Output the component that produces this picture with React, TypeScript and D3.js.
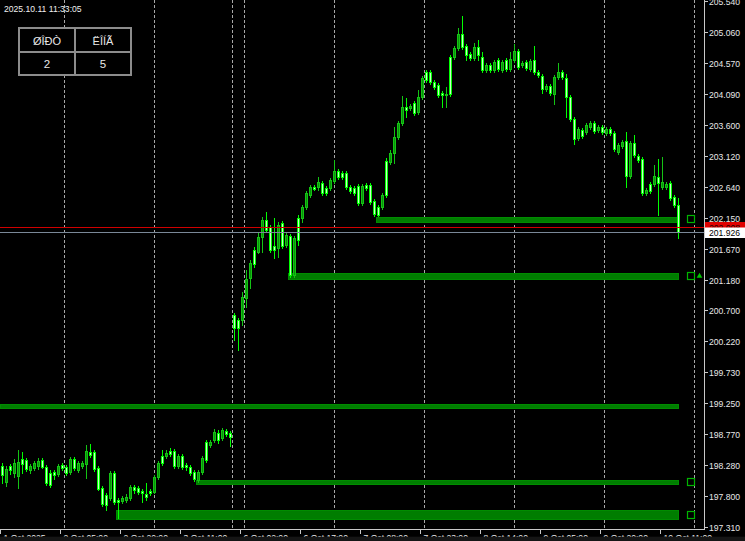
import * as d3 from "d3";

// H1 bars, oldest first (price values)
const open = [
  198.27, 198.01, 198.27, 198.16, 198.11, 198.37, 198.36, 198.2, 198.23, 198.27,
  198.36, 198.25, 198.16, 198.17, 198.14, 198.28, 198.25, 198.17, 198.37, 198.2,
  198.27, 198.3, 198.48, 198.48, 198.23, 197.92, 197.81, 197.76, 198.16, 197.73,
  197.72, 197.73, 197.76, 197.94, 197.92, 197.87, 197.83, 197.87, 197.86, 198.09,
  198.42, 198.42, 198.5, 198.5, 198.27, 198.42, 198.28, 198.25, 198.17, 198.05,
  198.17, 198.64, 198.59, 198.67, 198.78, 198.7, 198.81, 198.78,
  200.63, 200.55, 200.55, 200.9, 201.21, 201.65, 201.62, 201.85, 202.12, 202.01,
  201.71, 201.68, 202.07, 201.72, 201.87, 201.26, 202.15, 202.15, 202.32, 202.51,
  202.63, 202.63, 202.7, 202.62, 202.62, 202.73, 202.88, 202.85, 202.85, 202.63,
  202.62, 202.65, 202.38, 202.66, 202.66, 202.41, 202.32, 202.32, 203.04, 203.02,
  203.17, 203.42, 203.63, 203.89, 203.87, 203.95, 203.81, 204.04, 204.43, 204.43,
  204.28, 204.23, 204.1, 204.07, 204.67, 204.67, 204.81, 205.03, 204.84, 204.72,
  204.65, 204.82, 204.67, 204.47, 204.54, 204.47, 204.62, 204.47, 204.62, 204.48,
  204.62, 204.76, 204.54, 204.59, 204.48, 204.62, 204.43, 204.37, 204.17, 204.21,
  204.09, 204.36, 204.43, 204.34, 204.04, 203.7, 203.4, 203.53, 203.49, 203.57,
  203.63, 203.53, 203.57, 203.48, 203.54, 203.48, 203.18, 203.27, 203.35, 202.81,
  203.32, 203.12, 203.07, 202.54, 202.68, 202.68, 202.79, 202.63, 202.63, 202.7,
  202.48, 202.35,
];
const high = [
  198.31, 198.27, 198.3, 198.37, 198.52, 198.48, 198.39, 198.3, 198.34, 198.39,
  198.39, 198.28, 198.2, 198.2, 198.3, 198.31, 198.28, 198.41, 198.41, 198.34,
  198.34, 198.59, 198.61, 198.52, 198.27, 197.95, 197.84, 198.19, 198.19, 197.76,
  197.8, 197.83, 197.97, 197.97, 197.95, 197.9, 198.0, 197.9, 198.12, 198.34,
  198.52, 198.52, 198.55, 198.53, 198.45, 198.45, 198.31, 198.28, 198.2, 198.2,
  198.42, 198.67, 198.67, 198.84, 198.83, 198.86, 198.84, 198.81,
  200.66, 200.58, 200.99, 201.33, 201.49, 201.69, 201.91, 202.16, 202.24, 202.04,
  202.15, 202.09, 202.1, 201.91, 201.9, 201.87, 202.19, 202.35, 202.57, 202.66,
  202.66, 202.79, 202.73, 202.65, 202.77, 203.06, 202.92, 202.88, 202.88, 202.66,
  202.65, 202.68, 202.68, 202.7, 202.7, 202.45, 202.35, 202.54, 203.09, 203.21,
  203.57, 203.67, 204.06, 204.03, 203.93, 203.98, 204.15, 204.37, 204.47, 204.47,
  204.31, 204.26, 204.14, 204.2, 204.7, 204.84, 205.12, 205.31, 204.87, 204.75,
  204.89, 204.94, 204.75, 204.57, 204.57, 204.62, 204.65, 204.62, 204.65, 204.75,
  204.87, 204.79, 204.61, 204.62, 204.64, 204.84, 204.47, 204.4, 204.25, 204.25,
  204.39, 204.57, 204.47, 204.4, 204.07, 203.73, 203.57, 203.56, 203.63, 203.67,
  203.67, 203.6, 203.6, 203.57, 203.57, 203.51, 203.32, 203.37, 203.49, 203.35,
  203.45, 203.15, 203.1, 202.62, 202.71, 202.98, 203.07, 203.1, 202.71, 202.73,
  202.51, 202.46,
];
const low = [
  198.0, 197.95, 198.14, 198.09, 197.92, 198.16, 198.19, 198.16, 198.2, 198.22,
  198.23, 197.97, 197.94, 198.06, 198.11, 198.2, 198.12, 198.14, 198.2, 198.17,
  198.23, 198.08, 198.41, 198.19, 197.89, 197.64, 197.58, 197.73, 197.67, 197.45,
  197.69, 197.7, 197.73, 197.84, 197.83, 197.7, 197.73, 197.81, 197.84, 198.06,
  198.28, 198.39, 198.42, 198.23, 198.23, 198.22, 198.2, 198.12, 198.03, 198.01,
  198.14, 198.33, 198.56, 198.64, 198.62, 198.67, 198.74, 198.58,
  200.24, 200.08, 200.47, 200.75, 201.05, 201.38, 201.6, 201.62, 201.93, 201.62,
  201.52, 201.54, 201.68, 201.69, 201.22, 201.22, 201.72, 202.09, 202.29, 202.48,
  202.59, 202.59, 202.51, 202.51, 202.59, 202.7, 202.76, 202.76, 202.6, 202.54,
  202.51, 202.35, 202.35, 202.59, 202.37, 202.18, 202.18, 202.29, 202.48, 202.99,
  203.01, 203.38, 203.6, 203.73, 203.84, 203.76, 203.78, 204.01, 204.28, 204.25,
  204.17, 204.04, 203.89, 203.89, 204.06, 204.64, 204.78, 204.79, 204.62, 204.62,
  204.62, 204.62, 204.43, 204.43, 204.43, 204.43, 204.45, 204.43, 204.45, 204.45,
  204.59, 204.48, 204.51, 204.47, 204.45, 204.4, 204.36, 204.1, 204.14, 204.07,
  203.93, 204.32, 204.32, 203.73, 203.67, 203.31, 203.37, 203.4, 203.46, 203.54,
  203.48, 203.49, 203.46, 203.45, 203.45, 203.2, 203.15, 203.24, 202.63, 202.77,
  203.1, 203.02, 202.51, 202.51, 202.54, 202.65, 202.19, 202.6, 202.6, 202.43,
  202.32, 201.83,
];
const close = [
  198.12, 198.22, 198.2, 198.31, 198.33, 198.3, 198.22, 198.27, 198.31, 198.34,
  198.25, 198.0, 197.97, 198.12, 198.27, 198.23, 198.16, 198.37, 198.23, 198.31,
  198.31, 198.5, 198.44, 198.22, 197.9, 197.67, 197.65, 198.16, 197.7, 197.7,
  197.76, 197.78, 197.94, 197.89, 197.86, 197.84, 197.78, 197.84, 198.09, 198.31,
  198.31, 198.47, 198.45, 198.27, 198.42, 198.25, 198.25, 198.16, 198.06, 198.17,
  198.39, 198.36, 198.64, 198.8, 198.67, 198.83, 198.77, 198.72,
  200.43, 200.43, 200.91, 201.19, 201.44, 201.43, 201.85, 202.12, 201.96, 201.65,
  201.65, 202.04, 201.71, 201.88, 201.26, 201.84, 201.8, 202.32, 202.54, 202.63,
  202.6, 202.71, 202.54, 202.54, 202.74, 202.88, 202.79, 202.79, 202.63, 202.57,
  202.54, 202.38, 202.65, 202.62, 202.4, 202.21, 202.19, 202.51, 202.51, 203.17,
  203.42, 203.63, 203.89, 203.84, 203.9, 203.79, 204.04, 204.34, 204.31, 204.28,
  204.2, 204.07, 204.07, 204.09, 204.09, 204.81, 205.03, 204.82, 204.7, 204.65,
  204.82, 204.7, 204.47, 204.54, 204.47, 204.59, 204.48, 204.59, 204.48, 204.64,
  204.76, 204.51, 204.57, 204.5, 204.61, 204.43, 204.39, 204.17, 204.21, 204.1,
  204.36, 204.43, 204.36, 204.04, 203.7, 203.38, 203.54, 203.43, 203.6, 203.63,
  203.51, 203.57, 203.49, 203.54, 203.48, 203.23, 203.29, 203.34, 202.81, 203.32,
  203.13, 203.06, 202.54, 202.59, 202.57, 202.81, 202.7, 202.71, 202.68, 202.46,
  202.35, 201.926,
];

const priceTicks = [
  "205.540", "205.060", "204.570", "204.090", "203.600", "203.120", "202.640",
  "202.150", "201.670", "201.180", "200.700", "200.220", "199.730", "199.250",
  "198.770", "198.280", "197.800", "197.310",
];
const timeLabelBars = [0, 15, 30, 45, 60, 75, 90, 105, 120, 135, 150, 165];
const timeLabels = [
  "1 Oct 2025", "2 Oct 05:00", "2 Oct 20:00", "3 Oct 11:00", "6 Oct 02:00",
  "6 Oct 17:00", "7 Oct 08:00", "7 Oct 23:00", "8 Oct 14:00", "9 Oct 05:00",
  "9 Oct 20:00", "10 Oct 11:00",
];
const separatorBars = [15.5, 38, 57.5, 60.5, 83, 105.5, 128, 150.5, 173];

// supply / demand zones
const zoneTop = [202.17, 201.29, 199.23, 198.05, 197.57];
const zoneBottom = [202.08, 201.19, 199.17, 197.98, 197.43];
const zoneStart = [94, 72, 0, 49, 29];
const zoneMarked = [true, true, false, true, true];

const bid = 201.926;
const ask = 202.008;
const serverTime = "2025.10.11 11:33:05";
const tableHeaders = ["ØÎÐÒ", "ËÎÍÃ"];
const tableValues = ["2", "5"];

const W = 745;
const H = 541;
const axisX = 704.5;
const axisY = 529.5;
const font = "'Liberation Sans', Arial, sans-serif";

export default function App() {
  const x = d3.scaleLinear().domain([0, 169]).range([2.5, 678.5]);
  const y = d3.scaleLinear().domain([197.31, 205.06]).range([527, 32]);
  const py = (v: number) => Math.round(y(v));
  const lastX = x(open.length - 1);

  const candles = open.map((o, i) => {
    const c = close[i];
    const up = c > o;
    const top = py(Math.max(o, c));
    const bot = py(Math.min(o, c));
    return { i, up, top, bot, hi: py(high[i]), lo: py(low[i]) };
  });

  return (
    <svg
      width={W}
      height={H}
      style={{ position: "fixed", left: 0, top: 0, display: "block", background: "#000" }}
    >
      <rect x={0} y={0} width={W} height={H} fill="#000" />

      {/* separators */}
      {separatorBars.map((b, k) => (
        <line
          key={"s" + k}
          x1={Math.round(x(b) - 0.5) + 0.5}
          x2={Math.round(x(b) - 0.5) + 0.5}
          y1={0}
          y2={axisY}
          stroke="#a8a8a8"
          strokeWidth={1}
          strokeDasharray="3,2"
        />
      ))}

      {/* zones */}
      {zoneTop.map((t, k) => (
        <rect
          key={"z" + k}
          x={x(zoneStart[k]) - 2}
          y={py(t) + 0.5}
          width={lastX - x(zoneStart[k]) + 2}
          height={py(zoneBottom[k]) - py(t)}
          fill="#007d00"
          stroke="#008c00"
          strokeWidth={1}
        />
      ))}

      {/* candles */}
      <g shapeRendering="crispEdges">
        {candles.map((d) => {
          const cx = x(d.i);
          const stroke = d.up ? "#14c414" : "#00ff00";
          const fill = d.up ? "#0a900a" : "#c8ffc8";
          return (
            <g key={"c" + d.i}>
              <line x1={cx} x2={cx} y1={d.hi} y2={d.lo + 1} stroke={stroke} strokeWidth={1} />
              {d.bot - d.top < 1 ? (
                <line x1={cx - 1.5} x2={cx + 1.5} y1={d.top + 0.5} y2={d.top + 0.5} stroke={stroke} />
              ) : (
                <rect
                  x={cx - 1}
                  y={d.top + 0.5}
                  width={2}
                  height={d.bot - d.top}
                  fill={fill}
                  stroke={stroke}
                  strokeWidth={1}
                />
              )}
            </g>
          );
        })}
      </g>

      {/* zone labels */}
      {zoneTop.map((t, k) =>
        zoneMarked[k] ? (
          <rect
            key={"m" + k}
            x={lastX + 9}
            y={Math.round((y(t) + y(zoneBottom[k])) / 2) - 3.5}
            width={7}
            height={7}
            fill="none"
            stroke="#00b400"
            strokeWidth={1.2}
          />
        ) : null
      )}
      <path
        d={d3.symbol().type(d3.symbolTriangle).size(14)() || ""}
        transform={`translate(${lastX + 21},${Math.round((y(zoneTop[1]) + y(zoneBottom[1])) / 2)})`}
        fill="#00c800"
      />

      {/* bid / ask lines */}
      <line x1={0} x2={axisX} y1={py(ask) + 0.5} y2={py(ask) + 0.5} stroke="#d00000" strokeWidth={1} />
      <line x1={0} x2={axisX} y1={py(bid) + 0.5} y2={py(bid) + 0.5} stroke="#7a8898" strokeWidth={1} />

      {/* axes */}
      <g shapeRendering="crispEdges">
        <line x1={axisX} x2={axisX} y1={0} y2={axisY} stroke="#c8c8c8" />
        <line x1={0} x2={axisX} y1={axisY} y2={axisY} stroke="#c8c8c8" />
        {priceTicks.map((t) => (
          <line key={"pt" + t} x1={axisX} x2={axisX + 3} y1={py(+t) + 0.5} y2={py(+t) + 0.5} stroke="#c8c8c8" />
        ))}
        {timeLabelBars.map((b) => (
          <line key={"tt" + b} x1={x(b) - 2} x2={x(b) - 2} y1={axisY} y2={axisY + 4} stroke="#c8c8c8" />
        ))}
      </g>
      {priceTicks.map((t) => (
        <text
          key={"pl" + t}
          x={axisX + 4.5}
          y={py(+t) + 3.5}
          fill="#e8e8e8"
          fontFamily={font}
          fontSize={8.6}
        >
          {t}
        </text>
      ))}
      {timeLabelBars.map((b, k) => (
        <text key={"tl" + b} x={x(b) + 1} y={540.5} fill="#e8e8e8" fontFamily={font} fontSize={8.6}>
          {timeLabels[k]}
        </text>
      ))}
      <rect x={0} y={536.7} width={W} height={H - 536.7} fill="#151515" />

      {/* price labels */}
      <rect x={axisX + 0.5} y={py(ask) - 5} width={W - axisX} height={11} fill="#e00000" />
      <text x={axisX + 4.5} y={py(ask) + 3.5} fill="#200000" fontFamily={font} fontSize={8.6}>
        {ask.toFixed(3)}
      </text>
      <rect x={axisX + 0.5} y={py(bid) - 4.5} width={W - axisX} height={10.5} fill="#ffffff" />
      <text x={axisX + 4.5} y={py(bid) + 3.5} fill="#000" fontFamily={font} fontSize={8.6}>
        {bid.toFixed(3)}
      </text>

      {/* server time */}
      <text x={4} y={12} fill="#f0f0f0" fontFamily={font} fontSize={8.6}>
        {serverTime}
      </text>

      {/* counter table */}
      <g shapeRendering="crispEdges">
        <rect x={19} y={28} width={112} height={47} fill="#000" stroke="#8c8c8c" strokeWidth={2} />
        <line x1={75} x2={75} y1={28} y2={75} stroke="#8c8c8c" strokeWidth={2} />
        <line x1={19} x2={131} y1={51.5} y2={51.5} stroke="#8c8c8c" strokeWidth={2} />
      </g>
      {tableHeaders.map((h, k) => (
        <text
          key={"th" + k}
          x={47 + k * 56}
          y={45}
          textAnchor="middle"
          fill="#e8e8e8"
          fontFamily={font}
          fontSize={11}
        >
          {h}
        </text>
      ))}
      {tableValues.map((v, k) => (
        <text
          key={"tv" + k}
          x={47 + k * 56}
          y={68}
          textAnchor="middle"
          fill="#e8e8e8"
          fontFamily={font}
          fontSize={11.5}
        >
          {v}
        </text>
      ))}
    </svg>
  );
}
